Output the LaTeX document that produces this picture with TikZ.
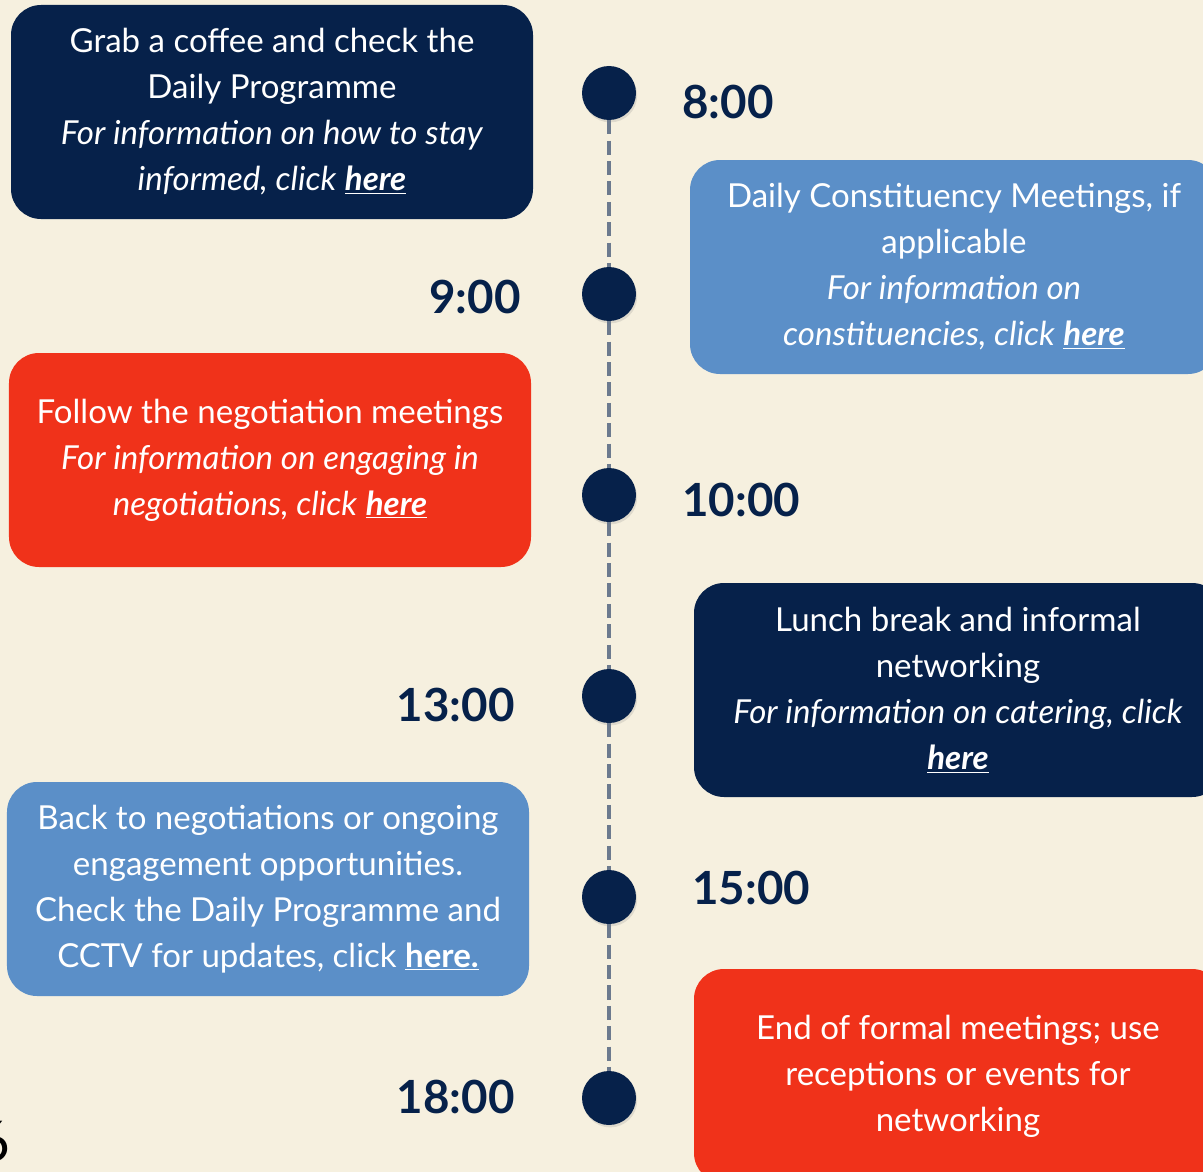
\documentclass[tikz,border=0pt]{standalone}
\usepackage{fontspec}
\setmainfont{Lato}
\usetikzlibrary{positioning,shadows}

\definecolor{bgcream}{HTML}{F6F0DF}
\definecolor{navy}{HTML}{06214A}
\definecolor{skyblue}{HTML}{5B8FC8}
\definecolor{signalred}{HTML}{F0321A}
\definecolor{linegray}{HTML}{6C7A8E}

\newcommand{\hereref}[1]{\underline{\textbf{\textit{#1}}}}

\begin{document}
\begin{tikzpicture}[
	slot/.style = {rounded corners = 0.75cm, text = white, align = center, inner sep = 0pt,
		minimum height = 5.35cm, font = \fontsize{23.5}{32.7}\selectfont},
	leftslot/.style = {slot, minimum width = 13.05cm},
	rightslot/.style = {slot, minimum width = 13.2cm},
	dot/.style = {circle, fill = navy, minimum size = 1.35cm, inner sep = 0pt,
		drop shadow = {shadow xshift = 0.03cm, shadow yshift = -0.06cm, opacity = 0.2}},
	hour/.style = {text = navy, font = \fontsize{32.5}{38}\selectfont\bfseries, inner sep = 0pt},
	timeline/.style = {draw = linegray, line width = 2.2pt, dash pattern = on 10pt off 4.5pt}
]
	\useasboundingbox (0,0) rectangle (30.075,-29.3);
	\fill[bgcream] (0,0) rectangle (30.075,-29.3);

	% timeline dots
	\node[dot] (c8) at (15.225,-2.325) {};
	\node[dot] (c9) [node distance = 5.025cm] [below of = c8] {};
	\node[dot] (c10) [node distance = 5.025cm] [below of = c9] {};
	\node[dot] (c13) [node distance = 5.025cm] [below of = c10] {};
	\node[dot] (c15) [node distance = 5.025cm] [below of = c13] {};
	\node[dot] (c18) [node distance = 5.025cm] [below of = c15] {};
	\path (c8) edge[timeline] (c9);
	\path (c9) edge[timeline] (c10);
	\path (c10) edge[timeline] (c13);
	\path (c13) edge[timeline] (c15);
	\path (c15) edge[timeline] (c18);

	% hours
	\node[hour, anchor = west] (t8) at (17.05,-2.55) {8:00};
	\node[hour, anchor = east] (t9) at (13.02,-7.42) {9:00};
	\node[hour, anchor = west] (t10) at (17.05,-12.5) {10:00};
	\node[hour, anchor = east] (t13) at (12.87,-17.62) {13:00};
	\node[hour, anchor = west] (t15) at (17.3,-22.2) {15:00};
	\node[hour, anchor = east] (t18) at (12.87,-27.42) {18:00};

	% activities
	\node[leftslot, fill = navy] (coffee) at (6.8,-2.8)
		{Grab a coffee and check the\\Daily Programme\\
		\textit{For information on how to stay}\\\textit{informed, click} \hereref{here}};
	\node[rightslot, fill = skyblue] (constit) at (23.85,-6.675)
		{Daily Constituency Meetings, if\\applicable\\
		\textit{For information on}\\\textit{constituencies, click} \hereref{here}};
	\node[leftslot, fill = signalred] (nego) at (6.75,-11.5)
		{Follow the negotiation meetings\\
		\textit{For information on engaging in}\\\textit{negotiations, click} \hereref{here}};
	\node[rightslot, fill = navy] (lunch) at (23.95,-17.25)
		{Lunch break and informal\\networking\\
		\textit{For information on catering, click}\\\hereref{here}};
	\node[leftslot, fill = skyblue] (back) at (6.7,-22.225)
		{Back to negotiations or ongoing\\engagement opportunities.\\
		Check the Daily Programme and\\CCTV for updates, click \underline{\textbf{here.}}};
	\node[rightslot, fill = signalred] (close) at (23.95,-26.9)
		{End of formal meetings; use\\receptions or events for\\networking};

	% cut-off text at the edge
	\node[anchor = east, font = \fontsize{40}{46}\selectfont, inner sep = 0pt] (edge6) at (0.26,-28.55) {6};
\end{tikzpicture}
\end{document}
